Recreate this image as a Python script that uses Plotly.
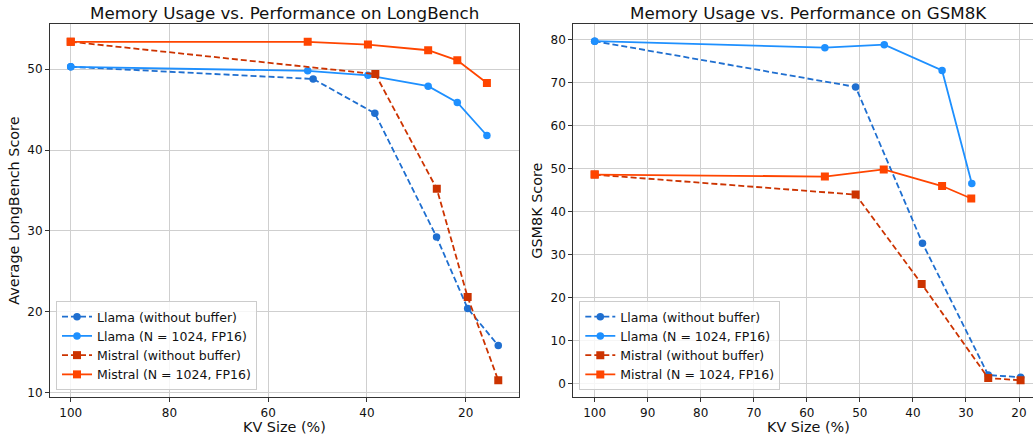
import plotly.graph_objects as go

# ---------------- data ----------------
# LongBench (left)
lb_llama_nb_x = [100, 50.9, 38.4, 25.9, 19.6, 13.4]
lb_llama_nb_y = [50.3, 48.8, 44.55, 29.25, 20.4, 15.8]
lb_llama_b_x = [100, 52.0, 39.8, 27.6, 21.7, 15.7]
lb_llama_b_y = [50.3, 49.8, 49.25, 47.9, 45.9, 41.8]
lb_mistral_nb_x = [100, 38.3, 25.85, 19.6, 13.4]
lb_mistral_nb_y = [53.4, 49.4, 35.2, 21.8, 11.5]
lb_mistral_b_x = [100, 52.0, 39.8, 27.6, 21.7, 15.7]
lb_mistral_b_y = [53.4, 53.4, 53.05, 52.35, 51.1, 48.3]

# GSM8K (right)
gs_llama_nb_x = [100, 50.8, 38.2, 25.8, 19.7]
gs_llama_nb_y = [79.7, 69.05, 32.7, 2.0, 1.5]
gs_llama_b_x = [100, 56.6, 45.4, 34.5, 28.9]
gs_llama_b_y = [79.7, 78.2, 78.9, 72.9, 46.6]
gs_mistral_nb_x = [100, 50.8, 38.35, 25.8, 19.7]
gs_mistral_nb_y = [48.65, 44.0, 23.2, 1.3, 0.8]
gs_mistral_b_x = [100, 56.6, 45.5, 34.5, 29.0]
gs_mistral_b_y = [48.65, 48.2, 49.85, 46.0, 43.1]

names = ["Llama (without buffer)", "Llama (N = 1024, FP16)",
         "Mistral (without buffer)", "Mistral (N = 1024, FP16)"]

left_ticks_x = [100, 80, 60, 40, 20]
left_ticks_y = [10, 20, 30, 40, 50]
right_ticks_x = [100, 90, 80, 70, 60, 50, 40, 30, 20]
right_ticks_y = [0, 10, 20, 30, 40, 50, 60, 70, 80]

# ---------------- styling ----------------
W, H = 1033, 436
FONT = "DejaVu Sans"
c_llama_nb = "#1f6fd0"
c_llama_b = "#1e90ff"
c_mis_nb = "#cc3300"
c_mis_b = "#ff4500"

def px(x):
    return x / W

def py(y):
    return 1 - y / H

styles = [
    dict(color=c_llama_nb, dash="dash", symbol="circle", size=7.5),
    dict(color=c_llama_b, dash="solid", symbol="circle", size=7.5),
    dict(color=c_mis_nb, dash="dash", symbol="square", size=8),
    dict(color=c_mis_b, dash="solid", symbol="square", size=8),
]

fig = go.Figure()

left_data = [(lb_llama_nb_x, lb_llama_nb_y), (lb_llama_b_x, lb_llama_b_y),
             (lb_mistral_nb_x, lb_mistral_nb_y), (lb_mistral_b_x, lb_mistral_b_y)]
right_data = [(gs_llama_nb_x, gs_llama_nb_y), (gs_llama_b_x, gs_llama_b_y),
              (gs_mistral_nb_x, gs_mistral_nb_y), (gs_mistral_b_x, gs_mistral_b_y)]

for (xs, ys), name, st in zip(left_data, names, styles):
    fig.add_trace(go.Scatter(
        x=xs, y=ys, mode="lines+markers", name=name,
        line=dict(color=st["color"], dash="solid" if st["dash"] == "solid" else "6px,3px", width=1.8),
        marker=dict(color=st["color"], symbol=st["symbol"], size=st["size"]),
        xaxis="x", yaxis="y", legend="legend"))

for (xs, ys), name, st in zip(right_data, names, styles):
    fig.add_trace(go.Scatter(
        x=xs, y=ys, mode="lines+markers", name=name,
        line=dict(color=st["color"], dash="solid" if st["dash"] == "solid" else "6px,3px", width=1.8),
        marker=dict(color=st["color"], symbol=st["symbol"], size=st["size"]),
        xaxis="x2", yaxis="y2", legend="legend2"))

axis_common = dict(
    showgrid=True, gridcolor="#cfcfcf", gridwidth=1,
    showline=True, linecolor="#333333", linewidth=1,
    ticks="outside", ticklen=4, tickcolor="#333333", tickwidth=1,
    tickfont=dict(family=FONT, size=12, color="#111111"),
    zeroline=False, tickmode="array", automargin=False,
)

ydom = [py(397.3), py(24)]

fig.update_layout(
    width=W, height=H,
    margin=dict(l=0, r=0, t=0, b=0, autoexpand=False),
    paper_bgcolor="white", plot_bgcolor="white",
    font=dict(family=FONT, size=12, color="#111111"),
    xaxis=dict(domain=[px(50), px(519)], range=[104.2, 9.2], tickvals=left_ticks_x,
               ticktext=[str(v) for v in left_ticks_x], mirror=True, anchor="y", **axis_common),
    yaxis=dict(domain=ydom, range=[9.4, 55.6], tickvals=left_ticks_y,
               ticktext=[str(v) for v in left_ticks_y], mirror=True, anchor="x", **axis_common),
    xaxis2=dict(domain=[px(573.3), 1.0], range=[104.03, 17.36], tickvals=right_ticks_x,
                ticktext=[str(v) for v in right_ticks_x], mirror=True, anchor="y2", **axis_common),
    yaxis2=dict(domain=ydom, range=[-3.17, 83.7], tickvals=right_ticks_y,
                ticktext=[str(v) for v in right_ticks_y], mirror=False, anchor="x2", **axis_common),
    legend=dict(x=px(56), y=py(390), xanchor="left", yanchor="bottom",
                bgcolor="rgba(255,255,255,0.8)", bordercolor="#cccccc", borderwidth=1,
                font=dict(family=FONT, size=12.5, color="#111111"), tracegroupgap=0),
    legend2=dict(x=px(579.3), y=py(390), xanchor="left", yanchor="bottom",
                 bgcolor="rgba(255,255,255,0.8)", bordercolor="#cccccc", borderwidth=1,
                 font=dict(family=FONT, size=12.5, color="#111111"), tracegroupgap=0),
    showlegend=True,
)

annots = [
    dict(text="Memory Usage vs. Performance on LongBench", x=px(284.5), y=py(13), size=16.7, angle=0),
    dict(text="Memory Usage vs. Performance on GSM8K", x=px(808), y=py(13), size=16.7, angle=0),
    dict(text="KV Size (%)", x=px(284.5), y=py(426.5), size=14.4, angle=0),
    dict(text="KV Size (%)", x=px(808), y=py(426.5), size=14.4, angle=0),
    dict(text="Average LongBench Score", x=px(14), y=py(210.7), size=14.4, angle=-90),
    dict(text="GSM8K Score", x=px(537), y=py(210.7), size=14.4, angle=-90),
]
for a in annots:
    fig.add_annotation(text=a["text"], x=a["x"], y=a["y"], xref="paper", yref="paper",
                       xanchor="center", yanchor="middle", showarrow=False, textangle=a["angle"],
                       font=dict(family=FONT, size=a["size"], color="#111111"))

fig.write_html("out.html", config={"displayModeBar": False},
               post_script="document.body.style.margin='0';document.body.style.overflow='hidden';")
